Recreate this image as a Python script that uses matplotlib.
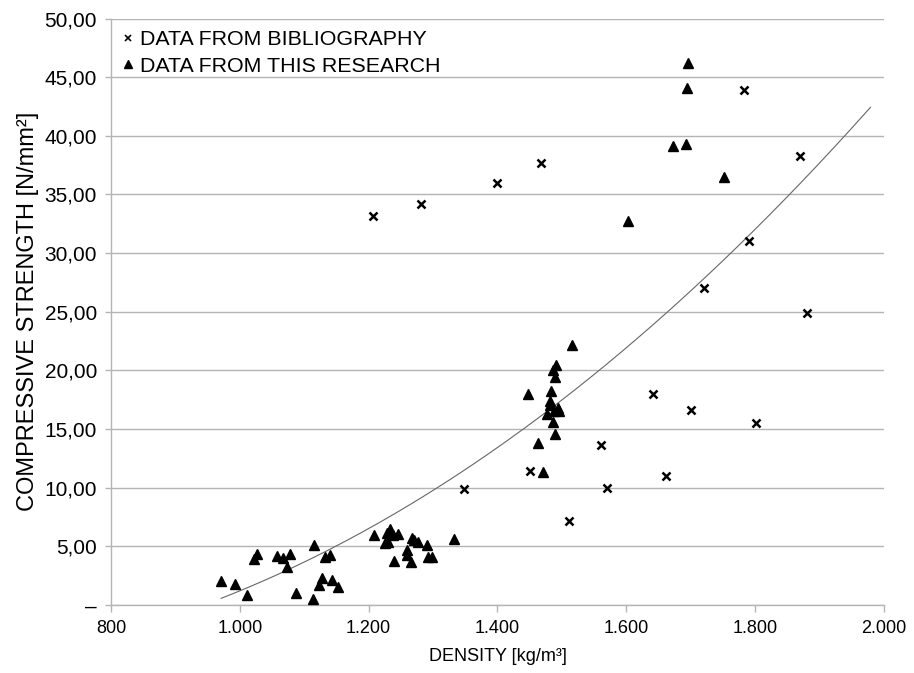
import numpy as np
import matplotlib
matplotlib.use("Agg")
import matplotlib.pyplot as plt
from matplotlib.lines import Line2D
from matplotlib.ticker import FuncFormatter

plt.rcParams['font.family'] = ['Liberation Sans', 'DejaVu Sans']

# data from bibliography (crosses)
bib_density = [1207, 1281, 1348, 1399, 1451, 1467, 1511, 1561, 1570, 1641,
               1661, 1701, 1721, 1783, 1791, 1801, 1870, 1880]
bib_strength = [33.2, 34.2, 9.9, 36.0, 11.4, 37.7, 7.2, 13.6, 10.0, 18.0,
                11.0, 16.6, 27.0, 43.9, 31.0, 15.5, 38.3, 24.9]

# data from this research (triangles)
res_density = [971, 993, 1011, 1022, 1027, 1057, 1067, 1073, 1078, 1088,
               1113, 1115, 1123, 1128, 1133, 1140, 1143, 1153,
               1209, 1225, 1228, 1230, 1233, 1238, 1240, 1245, 1259, 1260,
               1266, 1267, 1271, 1276, 1290, 1292, 1298, 1332,
               1447, 1463, 1470, 1477, 1482, 1482, 1483, 1486, 1486, 1488,
               1489, 1489, 1491, 1494, 1496, 1515,
               1602, 1672, 1692, 1694, 1696, 1752]
res_strength = [2.05, 1.8, 0.85, 3.95, 4.35, 4.18, 4.0, 3.27, 4.32, 1.0,
                0.49, 5.1, 1.68, 2.3, 4.1, 4.3, 2.13, 1.56,
                5.97, 5.26, 6.1, 5.4, 6.45, 5.97, 3.75, 6.05, 4.26, 4.69,
                3.64, 5.74, 5.54, 5.4, 5.09, 4.07, 4.07, 5.63,
                18.0, 13.8, 11.3, 16.3, 17.4, 17.05, 18.27, 20.0, 15.6, 16.5,
                19.4, 14.6, 20.46, 16.8, 16.5, 22.2,
                32.7, 39.1, 39.3, 44.05, 46.2, 36.5]

# polynomial trendline (2nd order): c2, c1, c0
trend_coef = [1.997e-5, -0.017381, -1.381]
trend_range = [971, 1979]

x_ticks = [800, 1000, 1200, 1400, 1600, 1800, 2000]
y_ticks = [0, 5, 10, 15, 20, 25, 30, 35, 40, 45, 50]

fig = plt.figure(figsize=(9.14, 6.73), dpi=100)
ax = fig.add_axes([0.1214, 0.101, 0.8458, 0.8715])

grid_col = '#b4b4b4'

xt = np.linspace(trend_range[0], trend_range[1], 200)
ax.plot(xt, np.polyval(trend_coef, xt), color='#666666', lw=0.8, zorder=2)

ax.plot(bib_density, bib_strength, linestyle='none', marker='x', ms=5.5,
        mew=1.8, color='black', zorder=3)
ax.plot(res_density, res_strength, linestyle='none', marker='^', ms=7,
        color='black', zorder=3)

ax.set_xlim(800, 2000)
ax.set_ylim(0, 50)
ax.set_xticks(x_ticks)
ax.set_yticks(y_ticks)


def fmt_x(v, pos):
    return f"{int(v):,}".replace(',', '.')


def fmt_y(v, pos):
    if v == 0:
        return '–'
    return f"{v:.2f}".replace('.', ',')


ax.xaxis.set_major_formatter(FuncFormatter(fmt_x))
ax.yaxis.set_major_formatter(FuncFormatter(fmt_y))
ax.tick_params(axis='both', color=grid_col, width=1, direction='out')
ax.tick_params(axis='x', labelsize=13, length=5, pad=6)
ax.tick_params(axis='y', labelsize=15, length=4, pad=6)

ax.grid(axis='y', color=grid_col, lw=1)
ax.set_axisbelow(True)
for side in ['top', 'right']:
    ax.spines[side].set_visible(False)
for side in ['left', 'bottom']:
    ax.spines[side].set_color(grid_col)
    ax.spines[side].set_linewidth(1)

ax.set_xlabel('DENSITY [kg/m³]', fontsize=13, labelpad=8)
ax.set_ylabel('COMPRESSIVE STRENGTH [N/mm²]', fontsize=17, labelpad=4)

handles = [
    Line2D([], [], linestyle='none', marker='x', ms=4.5, mew=1.2, color='black'),
    Line2D([], [], linestyle='none', marker='^', ms=5.5, color='black'),
]
labels = ['DATA FROM BIBLIOGRAPHY', 'DATA FROM THIS RESEARCH']
ax.legend(handles, labels, loc='upper left', bbox_to_anchor=(0.0, 1.0),
          frameon=False, fontsize=15.4, handlelength=0.5, handletextpad=0.3,
          labelspacing=0.36, borderaxespad=0.15)

fig.savefig('out.png', dpi=100)
